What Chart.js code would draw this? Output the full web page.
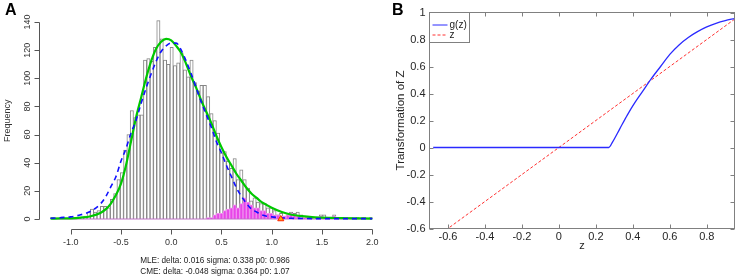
<!DOCTYPE html>
<html><head><meta charset="utf-8">
<script src="https://cdn.jsdelivr.net/npm/chart.js@4/dist/chart.umd.min.js"></script>
<style>
html,body{margin:0;padding:0;background:#fff;width:737px;height:279px;overflow:hidden;font-family:"Liberation Sans",Arial,sans-serif;}
#wrapA{position:absolute;left:0;top:0;width:386px;height:279px;}
#wrapB{position:absolute;left:390px;top:0;width:347px;height:279px;}
.lbl{position:absolute;font-weight:bold;font-size:16px;line-height:16px;color:#000;}
.note{position:absolute;left:115px;width:200px;text-align:center;font-size:8.2px;line-height:10px;color:#222;white-space:nowrap;}
</style></head><body>
<div id="wrapA"><canvas id="cA"></canvas></div>
<div id="wrapB"><canvas id="cB"></canvas></div>
<div class="lbl" style="left:5px;top:2px;">A</div>
<div class="lbl" style="left:392px;top:2px;">B</div>
<div class="note" style="top:256px;">MLE: delta: 0.016 sigma: 0.338 p0: 0.986</div>
<div class="note" style="top:267px;">CME: delta: -0.048 sigma: 0.364 p0: 1.07</div>
<script>
// ---------- Panel A data ----------
const binStart = -1.2, binWidth = 0.033;
const counts = [
 1,0,0,0,0,0,0,1,0,1,
 2,5,7,5,6,9,9,8,14,18,
 28,33,49,60,77,72,74,74,113,114,
 112,122,141,128,113,110,122,109,111,118,
 106,101,113,97,91,95,95,87,75,70,
 61,47,48,41,36,43,28,35,28,22,
 13,15,12,11,11,8,8,6,3,4,
 2,3,5,4,5,3,2,1,1,1,
 1,3,3,1,1,3,1,1,0,1,
 1,0,1,0,1,0,1];
const subsetCounts = [
 0,0,0,0,0,0,0,0,0,0,
 0,0,0,0,0,0,0,0,0,0,
 0,0,0,0,0,0,0,0,0,0,
 0,0,0,0,0,0,0,0,0,0,
 0,0,0,0,0,0,0,1,1,3,
 4,4,6,7,8,10,8,11,15,12,
 10,8,8,6,6,4,4,3,3,2,
 2,3,4,3,2,1,1,1,0,0,
 0,2,1,0,0,2,0,0,0,0,
 0,0,0,0,0,0,0];
const curveX = [-1.2,-1.1,-1.0,-0.9,-0.8,-0.7,-0.65,-0.6,-0.55,-0.5,-0.45,-0.4,-0.35,-0.3,-0.25,-0.2,-0.15,-0.1,-0.05,0,
 0.05,0.1,0.15,0.2,0.25,0.3,0.35,0.4,0.45,0.5,0.55,0.6,0.65,0.7,0.75,0.8,0.85,0.9,0.95,1.0,
 1.1,1.2,1.3,1.4,1.5,1.6,1.7,1.8,1.9,2.0];
const cmeFit = [0.3,0.4,0.5,1,2,4.5,7,11,17,25,38,55,72,86,100,112,121,126,128,127,
 123,118,110,101,93,84,76,68,59,51,44,38,32,27,22,18,15,12,10,8,
 5,3,2,1.3,1,0.8,0.6,0.5,0.4,0.3];
const mleFit = [0.5,1,1.5,3,5.5,11,16,23,30,41,50,61,70,82,93,103,112,119,123,125,
 125,120,112,103,93,83,74,65,55,47,38,30,22,16,11,7,5,3,2,1.5,
 0.8,0.5,0.4,0.3,0.3,0.3,0.3,0.3,0.3,0.3];
const markerX = [1.09], markerY = [0];
const xTicksA = [-1.0,-0.5,0.0,0.5,1.0,1.5,2.0];
const xTickLabelsA = ['-1.0','-0.5','0.0','0.5','1.0','1.5','2.0'];
const yTicksA = [0,20,40,60,80,100,120,140];

// ---------- Panel B data ----------
const zB = [-0.68,0.27,0.29,0.33,0.37,0.41,0.45,0.5,0.55,0.6,0.65,0.7,0.75,0.8,0.85,0.9,0.95];
const gB = [0,0,0.04,0.14,0.24,0.33,0.41,0.51,0.6,0.69,0.76,0.815,0.858,0.893,0.92,0.94,0.955];
const zLineX = [-0.7,0.95];
const zLineY = [-0.7,0.95];
const xTicksB = [-0.6,-0.4,-0.2,0,0.2,0.4,0.6,0.8];
const yTicksB = [-0.6,-0.4,-0.2,0,0.2,0.4,0.6,0.8,1];

const FONT = '"Liberation Sans", Arial, sans-serif';
const binCenters = counts.map((_, i) => binStart + binWidth * (i + 0.5));
const pts = (xs, ys) => xs.map((x, i) => ({x, y: ys[i]}));

// R-style detached axes for panel A
const axesA = {
  id: 'axesA',
  afterDraw(chart) {
    const {ctx, chartArea: ca, scales: {x, y}} = chart;
    ctx.save();
    ctx.strokeStyle = '#555'; ctx.lineWidth = 1; ctx.fillStyle = '#333';
    ctx.font = '9px ' + FONT;
    const ay = Math.round(ca.bottom) + 0.5;
    const x0 = Math.round(x.getPixelForValue(xTicksA[0])) + 0.5;
    const x1 = Math.round(x.getPixelForValue(xTicksA[xTicksA.length - 1])) + 0.5;
    ctx.beginPath(); ctx.moveTo(x0, ay); ctx.lineTo(x1, ay);
    xTicksA.forEach(v => { const p = Math.round(x.getPixelForValue(v)) + 0.5; ctx.moveTo(p, ay); ctx.lineTo(p, ay + 5); });
    ctx.stroke();
    ctx.textAlign = 'center'; ctx.textBaseline = 'middle';
    xTicksA.forEach((v, i) => ctx.fillText(xTickLabelsA[i], x.getPixelForValue(v), ay + 13));
    const ax = Math.round(ca.left) - 0.5;
    const y0 = Math.round(y.getPixelForValue(yTicksA[0])) + 0.5;
    const y1 = Math.round(y.getPixelForValue(yTicksA[yTicksA.length - 1])) + 0.5;
    ctx.beginPath(); ctx.moveTo(ax, y0); ctx.lineTo(ax, y1);
    yTicksA.forEach(v => { const p = Math.round(y.getPixelForValue(v)) + 0.5; ctx.moveTo(ax, p); ctx.lineTo(ax - 5, p); });
    ctx.stroke();
    yTicksA.forEach(v => {
      ctx.save(); ctx.translate(ax - 12, y.getPixelForValue(v)); ctx.rotate(-Math.PI / 2);
      ctx.fillText(String(v), 0, 0); ctx.restore();
    });
    ctx.save(); ctx.translate(8, (ca.top + ca.bottom) / 2); ctx.rotate(-Math.PI / 2);
    ctx.fillText('Frequency', 0, 0); ctx.restore();
    ctx.restore();
  }
};

new Chart(document.getElementById('cA'), {
  type: 'bar',
  data: {
    datasets: [
      {type: 'scatter', label: 'observed', data: pts(markerX, markerY), pointStyle: 'triangle', pointRadius: 3.5,
       backgroundColor: '#ffb000', borderColor: '#ff2000', borderWidth: 1, order: 0},
      {type: 'line', label: 'MLE fit', data: pts(curveX, mleFit), borderColor: '#1010ff', borderWidth: 1.6,
       borderDash: [5, 4], pointRadius: 0, cubicInterpolationMode: 'monotone', fill: false, order: 1},
      {type: 'line', label: 'CME fit', data: pts(curveX, cmeFit), borderColor: '#00c800', borderWidth: 2.2,
       pointRadius: 0, cubicInterpolationMode: 'monotone', fill: false, order: 2},
      {type: 'line', label: 'baseline', data: pts([binCenters[0], binCenters[binCenters.length - 1]], [0, 0]),
       borderColor: '#c070c8', borderWidth: 1, pointRadius: 0, order: 3},
      {type: 'bar', label: 'subset', data: pts(binCenters, subsetCounts), backgroundColor: '#e845e8',
       borderColor: '#f090f0', borderWidth: 1, grouped: false, barPercentage: 1, categoryPercentage: 1, order: 4},
      {type: 'bar', label: 'all', data: pts(binCenters, counts), backgroundColor: '#ffffff',
       borderColor: '#858585', borderWidth: 1, grouped: false, barPercentage: 1, categoryPercentage: 1, order: 5}
    ]
  },
  options: {
    responsive: true, maintainAspectRatio: false, animation: false,
    layout: {padding: {left: 40, right: 1, top: 12.7, bottom: 50}},
    plugins: {legend: {display: false}, tooltip: {enabled: false}},
    scales: {
      x: {type: 'linear', min: -1.305, max: 2.087, offset: false, display: false},
      y: {type: 'linear', min: -7.1, max: 146.6, display: false}
    }
  },
  plugins: [axesA]
});

// MATLAB-style box, inward ticks and legend for panel B
const boxB = {
  id: 'boxB',
  afterDraw(chart) {
    const {ctx, chartArea: ca, scales: {x, y}} = chart;
    const L = ca.left, R = ca.right, T = ca.top, B = ca.bottom;
    ctx.save();
    ctx.strokeStyle = '#808080'; ctx.lineWidth = 1;
    ctx.strokeRect(L, T, R - L, B - T);
    ctx.beginPath();
    x.ticks.forEach(t => { const p = Math.round(x.getPixelForValue(t.value)) + 0.5;
      ctx.moveTo(p, B); ctx.lineTo(p, B - 4); ctx.moveTo(p, T); ctx.lineTo(p, T + 4); });
    y.ticks.forEach(t => { const p = Math.round(y.getPixelForValue(t.value)) + 0.5;
      ctx.moveTo(L, p); ctx.lineTo(L + 4, p); ctx.moveTo(R, p); ctx.lineTo(R - 4, p); });
    ctx.stroke();
    ctx.fillStyle = '#fff';
    ctx.fillRect(L, T, 40, 30);
    ctx.strokeRect(L, T, 40, 30);
    ctx.font = '10px ' + FONT; ctx.textBaseline = 'middle'; ctx.textAlign = 'left';
    const ds = chart.data.datasets;
    [0, 1].forEach(i => {
      const yy = T + 12.5 + i * 10;
      ctx.beginPath(); ctx.strokeStyle = ds[i].borderColor; ctx.lineWidth = 1;
      ctx.setLineDash(ds[i].borderDash || []);
      ctx.moveTo(L + 3, yy); ctx.lineTo(L + 18, yy); ctx.stroke();
      ctx.setLineDash([]);
      ctx.fillStyle = '#222'; ctx.fillText(ds[i].label, L + 20, yy);
    });
    ctx.restore();
  }
};

new Chart(document.getElementById('cB'), {
  type: 'scatter',
  data: {
    datasets: [
      {label: 'g(z)', data: pts(zB, gB), showLine: true, borderColor: '#2a2aff', borderWidth: 1.3,
       pointRadius: 0, cubicInterpolationMode: 'monotone', fill: false},
      {label: 'z', data: pts(zLineX, zLineY), showLine: true, borderColor: '#ff3030', borderWidth: 1,
       borderDash: [3, 2], pointRadius: 0, fill: false}
    ]
  },
  options: {
    responsive: true, maintainAspectRatio: false, animation: false,
    layout: {padding: {left: 0, right: 2.5, top: 12.5, bottom: 0}},
    plugins: {legend: {display: false}, tooltip: {enabled: false}},
    scales: {
      x: {type: 'linear', min: -0.7, max: 0.95,
          afterBuildTicks: s => { s.ticks = xTicksB.map(v => ({value: v})); },
          afterFit: s => { s.height = 50.5; },
          grid: {display: false, drawTicks: false}, border: {display: false},
          ticks: {padding: 2, color: '#262626', font: {family: FONT, size: 11}, maxRotation: 0,
                  callback: v => String(+v.toFixed(1))},
          title: {display: true, text: 'z', color: '#262626', font: {family: FONT, size: 11}, padding: {top: 0, bottom: 26}}},
      y: {type: 'linear', min: -0.6, max: 1,
          afterBuildTicks: s => { s.ticks = yTicksB.map(v => ({value: v})); },
          afterFit: s => { s.width = 39.5; },
          grid: {display: false, drawTicks: false}, border: {display: false},
          ticks: {padding: 4, color: '#262626', font: {family: FONT, size: 11},
                  callback: v => String(+v.toFixed(1))},
          title: {display: true, text: 'Transformation of Z', color: '#262626', font: {family: FONT, size: 11.5}, padding: {top: 4, bottom: 0}}}
    }
  },
  plugins: [boxB]
});
</script>
</body></html>
